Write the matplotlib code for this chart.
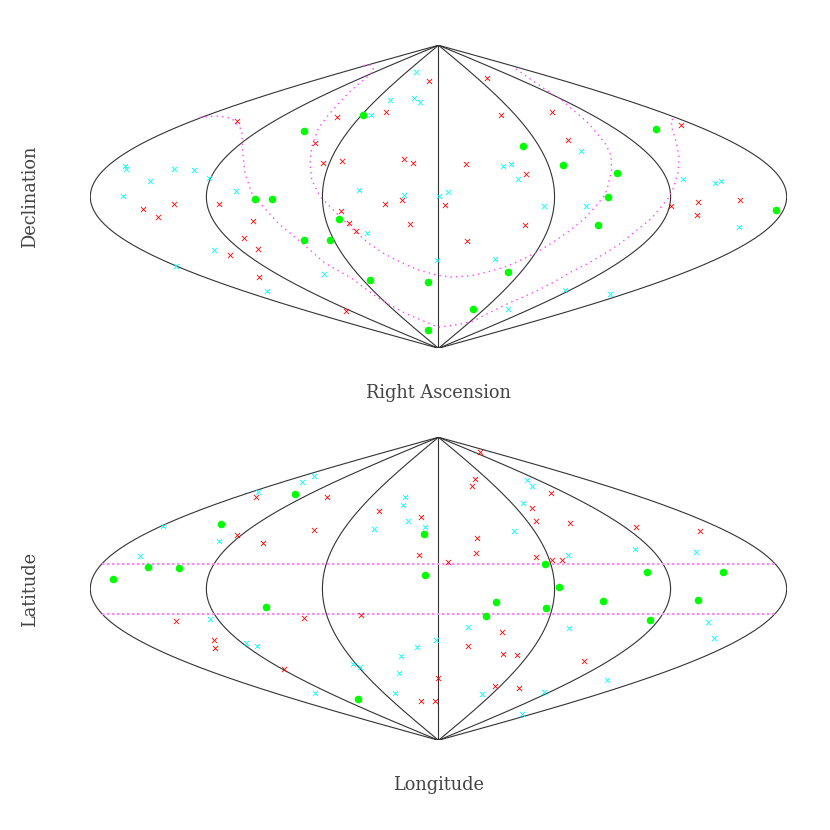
import numpy as np
import matplotlib
matplotlib.use('Agg')
import matplotlib.pyplot as plt

# all positions are sinusoidal map degrees: x = lon * cos(lat), y = lat
# --- Right Ascension / Declination panel ---
eq_red_x = [-4.7, -27.3, -52.3, -104.1, -63.6, -59.5, -50.0, -17.6, -13.3,
            -136.9, -152.5, -145.1, -113.6, -96.0, -100.7, -93.1, -107.6, -92.9, -48.0,
            -50.5, -46.4, -42.4, -27.5, -18.7, -14.5,
            24.9, 32.1, 58.8, 66.8, 125.5, 14.4, 45.4,
            3.2, 44.9, 14.7, 134.3, 156.0, 133.8, 120.2]
eq_red_y = [68.6, 50.6, 47.2, 44.8, 31.8, 19.9, 21.1, 22.5, 19.9,
            -4.1, -7.4, -12.2, -4.5, -14.4, -24.3, -31.0, -34.8, -47.4, -67.8,
            -8.6, -15.8, -20.1, -4.5, -2.1, -16.2,
            70.6, 48.8, 50.2, 33.8, 42.9, 19.3, 13.4,
            -4.9, -16.7, -26.1, -3.1, -2.1, -10.8, -5.7]

eq_cyan_x = [-11.6, -24.9, -12.8, -9.7, -34.9, -162.0, -161.7, -136.9, -126.4, -118.8,
             -148.9, -163.1, -104.8, -41.1, -18.0, 0.5,
             -116.2, -135.7, -88.8, -59.0, -37.1, -0.9,
             73.5, 33.5, 37.5, 41.3, 5.1, 126.6, 142.8, 145.9,
             54.5, 76.1, 155.5, 29.0, 65.2, 88.7, 35.9]
eq_cyan_y = [74.1, 57.3, 58.5, 56.1, 48.4, 18.1, 16.5, 16.5, 15.9, 11.4,
             9.6, 0.7, 3.5, 4.2, 0.9, 0.2,
             -31.4, -41.1, -56.2, -45.7, -21.3, -37.7,
             27.4, 18.3, 19.3, 10.4, 2.9, 10.8, 8.0, 9.4,
             -5.5, -5.5, -17.7, -37.1, -55.6, -57.5, -66.4]

eq_green_x = [-39.0, -69.3, -95.0, -86.0, -51.4, -69.5, -56.1, -35.6, -5.2, -5.2,
              43.9, 64.2, 112.4, 92.4, 87.5, 82.6, 174.3, 35.8, 17.7]
eq_green_y = [48.4, 39.3, -1.1, -1.1, -13.4, -25.9, -25.7, -49.6, -50.4, -79.1,
              30.2, 18.9, 40.1, 14.1, -0.3, -16.9, -7.8, -44.9, -66.6]

# galactic band edges as seen on the equatorial map
band_a_x = [-38.7, -34.9, -33.5, -36.2, -44.9, -50.0, -56.9, -62.1, -65.5, -66.4, -65.5, -62.1, -60.4,
            -55.2, -46.6, -36.2, -27.6, -17.3, -10.4, 0.0,
            6.8, 17.2, 25.8, 36.1, 49.9, 58.5, 67.1, 75.7, 82.6,
            86.1, 87.5, 89.5, 89.2, 86.1, 82.6, 77.5, 70.6, 63.7, 56.8, 48.2, 39.6]
band_a_y = [77.9, 78.3, 75.3, 71.8, 63.5, 57.5, 48.6, 40.7, 29.8, 19.9, 10.0, 2.1, -0.9,
            -6.9, -16.8, -27.6, -34.2, -40.1, -43.5, -46.8,
            -47.8, -46.8, -44.5, -41.1, -33.6, -27.6, -20.7, -12.8, -3.9,
            1.1, 6.0, 15.9, 24.8, 31.8, 36.7, 43.7, 50.6, 57.5, 62.5, 69.4, 76.3]
band_b_x = [-123.3, -113.8, -106.9, -101.7, -101.2, -100.0, -96.5,
            -93.1, -82.8, -72.4, -58.6, -44.9, -31.1, -17.3, 0.0,
            8.5, 17.2, 25.8, 36.1, 48.2, 58.5, 68.8, 77.5, 86.1, 93.0, 101.6, 110.2, 118.8,
            121.4, 124.0, 124.3, 123.1, 120.9, 120.2, 123.1]
band_b_y = [47.2, 48.0, 46.6, 39.7, 25.8, 13.9, 2.1,
            -2.9, -15.8, -25.7, -39.5, -48.4, -60.3, -69.2, -77.5,
            -76.2, -74.2, -69.2, -63.3, -57.3, -51.4, -44.5, -39.5, -33.6, -28.6, -20.7, -12.8, -0.9,
            5.0, 14.9, 23.8, 31.8, 39.7, 45.6, 47.0]

# --- Longitude / Latitude panel ---
gal_red_x = [-94.1, -57.4, -30.6, -8.8, -64.2, -104.0, -90.9, -9.9,
             -135.5, -69.7, -40.2, -116.0, -115.7, -79.7, -0.4, -8.8, -1.6,
             21.3, 18.9, 17.3, 58.0, 48.2, 50.4, 68.0, 102.3, 135.2, 20.1, 19.4, 4.7, 50.6, 58.7, 63.8,
             32.8, 15.4, 33.3, 40.4, 75.4, 29.4, 41.6]
gal_red_y = [54.7, 54.7, 46.2, 42.7, 34.7, 31.8, 27.0, 20.3,
             -19.3, -17.5, -15.8, -30.2, -35.2, -47.6, -53.0, -66.4, -66.8,
             81.5, 65.0, 61.0, 56.9, 48.2, 40.3, 39.1, 36.5, 34.5, 30.0, 21.1, 16.1, 18.9, 17.1, 16.9,
             -25.5, -34.2, -38.9, -39.1, -42.9, -57.7, -58.9]

gal_cyan_x = [-64.5, -70.7, -93.3, -142.2, -113.6, -154.4, -17.1, -18.2, -15.6, -7.0, -33.3,
              -118.3, -99.3, -93.8, -44.0, -40.6, -1.3, -11.3, -19.5, -20.6, -22.3, -64.0,
              45.6, 48.5, 43.9, 39.2, 67.0, 101.8, 133.3,
              15.1, 67.5, 139.3, 142.6, 87.3, 54.4, 22.7, 43.0]
gal_cyan_y = [67.0, 63.5, 57.3, 37.3, 28.2, 19.7, 54.3, 50.0, 40.1, 36.5, 35.7,
              -18.1, -32.0, -33.8, -44.5, -46.4, -30.6, -34.4, -40.1, -49.8, -62.1, -61.9,
              64.8, 60.9, 50.8, 34.1, 19.9, 23.6, 21.7,
              -22.5, -23.5, -19.7, -29.0, -54.4, -61.3, -62.3, -74.4]

gal_green_x = [-74.0, -112.6, -7.3, -150.3, -134.1, -168.2, -6.8, -89.0, -41.4,
               54.9, 107.8, 146.9, 62.5, 29.7, 24.6, 55.4, 85.2, 134.3, 109.5]
gal_green_y = [56.1, 38.3, 32.4, 12.8, 12.4, 5.6, 8.4, -10.8, -65.5,
               14.8, 10.2, 10.2, 0.9, -8.0, -16.2, -11.2, -7.0, -6.7, -18.7]

meridians = [-180, -120, -60, 0, 60, 120, 180]
band_lat = 15
line_color = '#333333'
pink = '#ff44ff'


def draw_grid(ax):
    lat = np.linspace(-90, 90, 361)
    for lon in meridians:
        ax.plot(lon * np.cos(np.radians(lat)), lat, color=line_color, lw=0.8)
    ax.set_xlim(-180, 180)
    ax.set_ylim(-90, 90)
    ax.axis('off')


def draw_points(ax, red, cyan, green):
    ax.scatter(red[0], red[1], marker='x', s=14, c='#ff0000', linewidths=0.6, zorder=3)
    ax.scatter(cyan[0], cyan[1], marker='x', s=14, c='#00ffff', linewidths=0.6, zorder=3)
    ax.scatter(green[0], green[1], marker='o', s=30, c='#00ff00', linewidths=0, zorder=4)


fig = plt.figure(figsize=(8.3, 8.3), dpi=100)
ax1 = fig.add_axes([0.1088, 0.5804, 0.839, 0.3651])
ax2 = fig.add_axes([0.1088, 0.1081, 0.839, 0.3651])

draw_grid(ax1)
ax1.plot(band_a_x, band_a_y, color=pink, lw=1.0, ls=(0, (1, 3)))
ax1.plot(band_b_x, band_b_y, color=pink, lw=1.0, ls=(0, (1, 3)))
draw_points(ax1, (eq_red_x, eq_red_y), (eq_cyan_x, eq_cyan_y), (eq_green_x, eq_green_y))

draw_grid(ax2)
band_x = 180 * np.cos(np.radians(band_lat))
for sign in (1, -1):
    ax2.plot([-band_x, band_x], [sign * band_lat, sign * band_lat],
             color='#ff88ff', lw=1.5, ls=(0, (1.2, 1.2)))
draw_points(ax2, (gal_red_x, gal_red_y), (gal_cyan_x, gal_cyan_y), (gal_green_x, gal_green_y))

label_style = dict(family='DejaVu Serif', fontsize=12.8, color='#444444', ha='center', va='center')
fig.text(438.5 / 830, 1 - 393 / 830, 'Right Ascension', **label_style)
fig.text(438.5 / 830, 1 - 785 / 830, 'Longitude', **label_style)
fig.text(30 / 830, 1 - 197 / 830, 'Declination', rotation=90, **label_style)
fig.text(30 / 830, 1 - 589 / 830, 'Latitude', rotation=90, **label_style)

plt.savefig('out.png', dpi=100)
